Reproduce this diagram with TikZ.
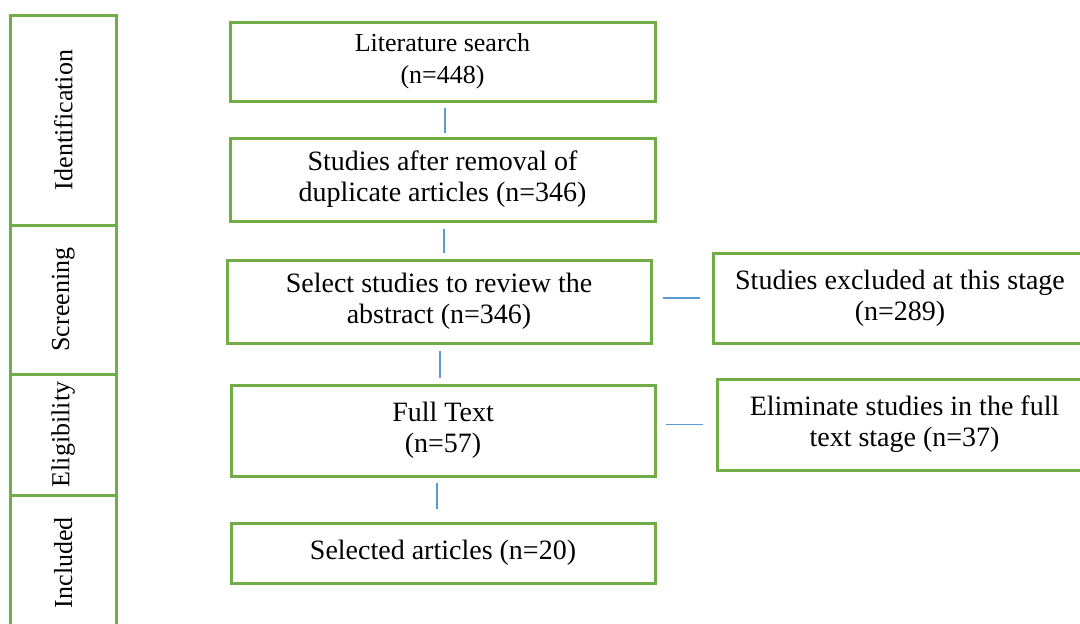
\documentclass[tikz,border=0pt]{standalone}
\usepackage{fontspec}
\setmainfont{Liberation Serif}
\definecolor{boxgreen}{HTML}{70AD47}
\definecolor{linkblue}{HTML}{5B9BD5}
\begin{document}
\begin{tikzpicture}[x=0.5pt,y=-0.5pt,
  box/.style={draw=boxgreen,line width=1.5pt,align=center,inner sep=0pt,
    font=\fontsize{14}{15.5}\selectfont},
  stagebox/.style={draw=boxgreen,line width=1.5pt,rotate=90,inner sep=0pt,
    font=\fontsize{13}{15}\selectfont},
  link/.style={draw=linkblue,line width=0.7pt}]
\clip (0,0) rectangle (1080,623);
\node[stagebox,minimum width=105pt,minimum height=52.75pt] (ident) at (63.25,120) {Identification};
\node[stagebox,minimum width=74.5pt,minimum height=52.75pt] (screen) at (63.25,299.5) {Screening};
\node[stagebox,minimum width=60.5pt,minimum height=52.75pt] (elig) at (63.25,434.5) {Eligibility};
\node[stagebox,minimum width=67.5pt,minimum height=52.75pt] (incl) at (63.25,562.5) {Included};
\node[box,minimum width=212.5pt,minimum height=39.5pt,font=\fontsize{13}{16}\selectfont] (search) at (442.5,61.5) {Literature search\\(n=448)};
\node[box,minimum width=212.5pt,minimum height=41.5pt] (dupl) at (442.5,179.5) {Studies after removal of\\duplicate articles (n=346)};
\node[box,minimum width=212pt,minimum height=41.5pt] (abstr) at (439,301.5) {Select studies to review the\\abstract (n=346)};
\node[box,minimum width=212pt,minimum height=45.5pt] (fulltext) at (443,430.5) {Full Text\\(n=57)};
\node[box,minimum width=212pt,minimum height=30pt] (selected) at (443,553) {Selected articles (n=20)};
\node[box,minimum width=187pt,minimum height=45pt] (excl) at (900,298) {Studies excluded at this stage\\(n=289)};
\node[box,minimum width=187.5pt,minimum height=45.5pt] (elim) at (904.5,424.5) {Eliminate studies in the full\\text stage (n=37)};
\draw[link,shorten <=2.5pt,shorten >=2pt] ([xshift=1.25pt]search.south) -- ([xshift=1.25pt]search.south |- dupl.north);
\draw[link,shorten <=3pt,shorten >=3pt] ([xshift=0.75pt]dupl.south) -- ([xshift=0.75pt]dupl.south |- abstr.north);
\draw[link,shorten <=3pt,shorten >=3pt] ([xshift=0.5pt]abstr.south) -- ([xshift=0.5pt]abstr.south |- fulltext.north);
\draw[link,shorten <=2.5pt,shorten >=6.5pt] ([xshift=-3pt]fulltext.south) -- ([xshift=-3pt]fulltext.south |- selected.north);
\draw[link,shorten <=5pt,shorten >=6pt] (abstr.east |- excl.west) -- (excl.west);
\draw[link,shorten <=4.5pt,shorten >=6.5pt] (fulltext.east |- elim.west) -- (elim.west);
\end{tikzpicture}
\end{document}
